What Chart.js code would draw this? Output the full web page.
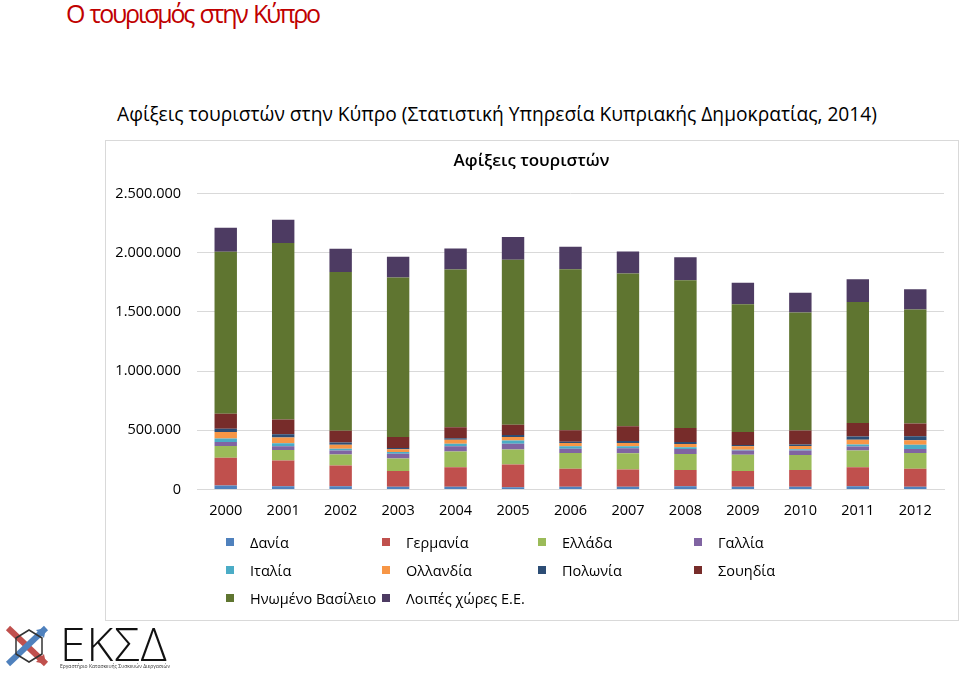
<!DOCTYPE html>
<html lang="el">
<head>
<meta charset="utf-8">
<title>Ο τουρισμός στην Κύπρο</title>
<script src="https://cdn.jsdelivr.net/npm/chart.js@4.4.1/dist/chart.umd.min.js"></script>
<style>
  html, body { margin: 0; padding: 0; background: #fff; }
  body { width: 960px; height: 677px; position: relative; overflow: hidden; font-family: "Open Sans", "Noto Sans", sans-serif; }
  #pageTitle { position: absolute; left: 66px; top: -4px; color: #c00000; font-size: 25px; letter-spacing: -2.2px; word-spacing: 2px; white-space: nowrap; }
  #subTitle { position: absolute; left: 117px; top: 100px; color: #000; font-size: 19.2px; white-space: nowrap; }
  #box { position: absolute; left: 105px; top: 140px; width: 852px; height: 479px; border: 1px solid #d9d9d9; }
  #chartWrap { position: absolute; left: 105px; top: 140px; width: 853px; height: 480px; }
  #legend { position: absolute; left: 226px; top: 528px; width: 624px; display: flex; flex-wrap: wrap; font-size: 14.5px; color: #000; }
  .item { min-width: 156px; height: 28px; display: flex; align-items: center; white-space: nowrap; padding-right: 3px; box-sizing: border-box; }
  .item span.sw { width: 8px; height: 8px; margin-right: 16px; flex: none; }
  #logo { position: absolute; left: 2px; top: 620px; }
  #logoText { position: absolute; left: 60px; top: 612px; font-size: 46px; font-weight: 300; letter-spacing: 1px; color: #111; }
  #logoSub { position: absolute; left: 60px; top: 663px; font-size: 5px; color: #333; white-space: nowrap; }
</style>
</head>
<body>
<div id="pageTitle">Ο τουρισμός στην Κύπρο</div>
<div id="subTitle">Αφίξεις τουριστών στην Κύπρο (Στατιστική Υπηρεσία Κυπριακής Δημοκρατίας, 2014)</div>
<div id="box"></div>
<div id="chartWrap"><canvas id="touristChart" width="853" height="480"></canvas></div>
<div id="legend"></div>

<svg id="logo" width="54" height="54" viewBox="0 0 54 54">
  <path d="M6 8 L44 44" stroke="#c0504d" stroke-width="6" fill="none"/>
  <path d="M44 44 l-10 -2 l8 -8 z" fill="#c0504d"/>
  <path d="M6 44 L44 8" stroke="#4f81bd" stroke-width="6" fill="none"/>
  <path d="M44 8 l-2 10 l-8 -8 z" fill="#4f81bd"/>
  <path d="M14 18 L27 10 L40 18 L40 34 L27 42 L14 34 Z" stroke="#333" stroke-width="1.5" fill="none"/>
</svg>
<div id="logoText">ΕΚΣΔ</div>
<div id="logoSub">Εργαστήριο Κατασκευής Συσκευών Διεργασιών</div>

<script>
// έτη (κατηγορίες)
const years = ['2000', '2001', '2002', '2003', '2004', '2005', '2006', '2007', '2008', '2009', '2010', '2011', '2012'];

// αφίξεις ανά χώρα προέλευσης
const denmark = [34000, 28000, 28000, 23000, 25000, 20000, 23000, 25000, 28000, 23000, 25000, 28000, 25000];
const germany = [234000, 217000, 175000, 133000, 163000, 192000, 152000, 144000, 138000, 133000, 141000, 161000, 150000];
const greece = [99000, 90000, 93000, 107000, 133000, 127000, 133000, 138000, 135000, 138000, 127000, 141000, 133000];
const france = [34000, 31000, 34000, 40000, 45000, 48000, 37000, 42000, 42000, 37000, 37000, 34000, 34000];
const italy = [31000, 25000, 14000, 14000, 20000, 28000, 20000, 17000, 14000, 6000, 11000, 17000, 37000];
const netherlands = [54000, 48000, 34000, 23000, 34000, 28000, 28000, 28000, 28000, 28000, 28000, 40000, 37000];
const poland = [28000, 28000, 20000, 11000, 14000, 17000, 11000, 17000, 17000, 11000, 11000, 28000, 34000];
const sweden = [127000, 124000, 99000, 93000, 93000, 87000, 96000, 124000, 118000, 110000, 118000, 113000, 107000];
const unitedKingdom = [1366000, 1490000, 1340000, 1347000, 1330000, 1394000, 1360000, 1288000, 1247000, 1079000, 997000, 1022000, 963000];
const otherEU = [203000, 197000, 195000, 174000, 177000, 191000, 189000, 186000, 194000, 180000, 166000, 192000, 172000];

// άξονας y
const yMax = 2500000;
const yStep = 500000;

const series = [
    { label: 'Δανία', data: denmark, color: '#4f81bd' },
    { label: 'Γερμανία', data: germany, color: '#c0504d' },
    { label: 'Ελλάδα', data: greece, color: '#9bbb59' },
    { label: 'Γαλλία', data: france, color: '#8064a2' },
    { label: 'Ιταλία', data: italy, color: '#4bacc6' },
    { label: 'Ολλανδία', data: netherlands, color: '#f79646' },
    { label: 'Πολωνία', data: poland, color: '#2c4d75' },
    { label: 'Σουηδία', data: sweden, color: '#772c2a' },
    { label: 'Ηνωμένο Βασίλειο', data: unitedKingdom, color: '#5f7530' },
    { label: 'Λοιπές χώρες Ε.Ε.', data: otherEU, color: '#4d3b62' }
];

const FONT = '"Open Sans", "Noto Sans", sans-serif';

// μορφή αριθμών με τελεία για χιλιάδες
function formatNumber(v) {
    return String(v).replace(/\B(?=(\d{3})+(?!\d))/g, '.');
}

const ctx = document.getElementById('touristChart').getContext('2d');

const touristChart = new Chart(ctx, {
    type: 'bar',
    data: {
        labels: years,
        datasets: series.map(s => ({
            label: s.label,
            data: s.data,
            backgroundColor: s.color,
            borderWidth: 0,
            categoryPercentage: 1,
            barPercentage: 0.39
        }))
    },
    options: {
        responsive: false,
        animation: false,
        layout: {
            padding: { left: 0, right: 0, top: 0, bottom: 87 }
        },
        scales: {
            x: {
                stacked: true,
                grid: { display: false, drawTicks: false },
                border: { color: '#d9d9d9' },
                ticks: { color: '#000', font: { family: FONT, size: 14.5 }, padding: 13, maxRotation: 0 }
            },
            y: {
                stacked: true,
                min: 0,
                max: yMax,
                grid: { color: '#d9d9d9', drawTicks: false },
                border: { display: false },
                ticks: {
                    stepSize: yStep,
                    color: '#000',
                    padding: 16,
                    font: { family: FONT, size: 14.5 },
                    callback: v => formatNumber(v)
                },
                afterFit: scale => { scale.width = 92; }
            },
            // κενό δεξιά του διαγράμματος
            yRight: {
                position: 'right',
                grid: { display: false, drawTicks: false },
                border: { display: false },
                ticks: { display: false },
                afterFit: scale => { scale.width = 14; }
            }
        },
        plugins: {
            legend: { display: false },
            tooltip: { enabled: false },
            title: {
                display: true,
                text: 'Αφίξεις τουριστών',
                color: '#000',
                font: { family: FONT, size: 17, weight: '600' },
                padding: { top: 11, bottom: 22 }
            }
        }
    }
});

// υπόμνημα σε στήλες
const legendBox = document.getElementById('legend');
touristChart.data.datasets.forEach(ds => {
    const item = document.createElement('div');
    item.className = 'item';
    const sw = document.createElement('span');
    sw.className = 'sw';
    sw.style.background = ds.backgroundColor;
    const txt = document.createElement('span');
    txt.textContent = ds.label;
    item.appendChild(sw);
    item.appendChild(txt);
    legendBox.appendChild(item);
});
</script>
</body>
</html>
